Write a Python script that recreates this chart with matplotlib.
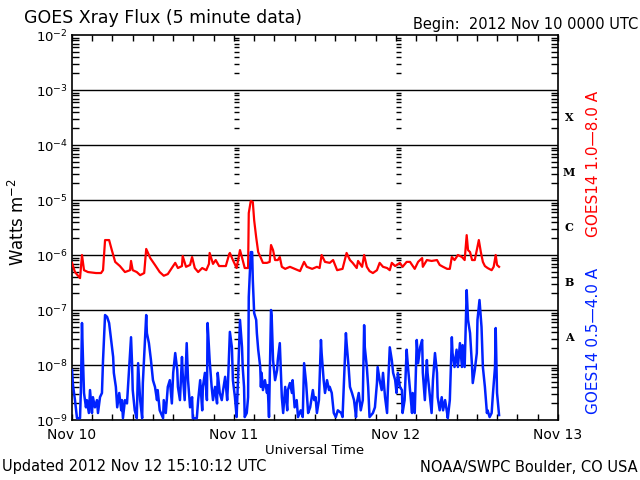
import numpy as np
import matplotlib
matplotlib.use("Agg")
import matplotlib.pyplot as plt
from matplotlib.path import Path
from matplotlib.ticker import FixedLocator, NullFormatter
import matplotlib.transforms as mtransforms

# hours since 2012 Nov 10 00:00 UTC, flux in W m^-2
long_hours = [0, 0.44, 1.19, 1.48, 1.78, 2.37, 3.56, 4.3, 4.6, 4.9, 5.5, 5.9, 6.4, 7.1, 7.85,
              8.6, 8.75, 9.0, 9.6, 10.1, 10.7, 11.0, 11.6, 12.3, 13.0, 13.6, 14.2, 14.8, 15.3,
              15.7, 16.3, 16.4, 16.9, 17.5, 17.8, 18.2, 18.7, 19.3, 19.9, 20.3, 20.4, 20.9,
              21.3, 21.8, 22.2, 22.8, 23.3, 23.4, 23.85, 24.4, 24.9, 25.3, 25.6, 26.1, 26.2,
              26.5, 26.8, 27.0, 27.3, 27.6, 28.0, 28.3, 28.9, 29.3, 29.5, 29.8, 30.1, 30.5,
              30.8, 31.1, 31.6, 32.3, 33.0, 33.8, 34.4, 34.8, 35.6, 36.3, 36.7, 37.0, 37.5,
              38.2, 38.7, 39.3, 40.1, 40.7, 41.2, 41.6, 42.2, 42.4, 43.0, 43.3, 43.7, 44.1,
              44.6, 45.2, 45.6, 46.1, 46.7, 47.1, 47.4, 47.9, 48.6, 49.0, 49.6, 50.1, 50.4,
              50.8, 51.3, 51.9, 52.0, 52.6, 53.3, 54.1, 54.5, 55.0, 55.6, 56.0, 56.3, 56.7,
              57.2, 57.8, 58.2, 58.5, 58.7, 59.0, 59.3, 59.7, 60.0, 60.3, 60.6, 60.9, 61.2,
              61.6, 62.2, 62.5, 62.8, 63.0, 63.3]
long_flux = [7.2e-7, 4.9e-7, 3.8e-7, 1.0e-6, 5.3e-7, 4.9e-7, 4.7e-7, 4.7e-7, 5.3e-7, 1.87e-6,
             1.87e-6, 1.23e-6, 7.5e-7, 6.3e-7, 4.9e-7, 5.3e-7, 7.8e-7, 5.3e-7, 4.9e-7, 4.3e-7,
             4.7e-7, 1.29e-6, 8.8e-7, 6.6e-7, 4.9e-7, 4.2e-7, 4.5e-7, 5.8e-7, 7.2e-7, 5.8e-7,
             6.3e-7, 9.6e-7, 6.1e-7, 6.6e-7, 9.2e-7, 5.8e-7, 4.9e-7, 5.8e-7, 5.3e-7, 6.9e-7,
             1.09e-6, 6.9e-7, 8.1e-7, 6.3e-7, 6.3e-7, 6.3e-7, 1.04e-6, 1.09e-6, 8.1e-7, 5.8e-7,
             1.23e-6, 8.1e-7, 5.8e-7, 5.8e-7, 5.8e-6, 9.6e-6, 9.2e-6, 4.3e-6, 2.1e-6, 1.13e-6,
             8.8e-7, 7.2e-7, 7.2e-7, 7.5e-7, 1.52e-6, 1.23e-6, 8.1e-7, 8.1e-7, 9.2e-7, 6.1e-7,
             5.6e-7, 6.1e-7, 5.6e-7, 5.1e-7, 7.5e-7, 6.1e-7, 5.6e-7, 6.1e-7, 5.8e-7, 1.0e-6,
             7.5e-7, 7.2e-7, 8.1e-7, 5.3e-7, 5.6e-7, 1.09e-6, 8.1e-7, 7.2e-7, 5.8e-7, 7.8e-7,
             6.1e-7, 1.0e-6, 6.1e-7, 5.1e-7, 4.7e-7, 5.3e-7, 7.2e-7, 6.1e-7, 5.8e-7, 5.3e-7,
             7.2e-7, 6.3e-7, 7.2e-7, 6.1e-7, 7.5e-7, 7.5e-7, 6.6e-7, 5.6e-7, 7.5e-7, 8.8e-7,
             6.1e-7, 8.1e-7, 7.8e-7, 8.1e-7, 6.6e-7, 6.1e-7, 5.6e-7, 5.6e-7, 9.2e-7, 8.1e-7,
             1.0e-6, 9.2e-7, 8.1e-7, 2.3e-6, 1.23e-6, 1.13e-6, 8.1e-7, 8.1e-7, 1.23e-6, 1.87e-6,
             1.13e-6, 7.5e-7, 6.3e-7, 5.8e-7, 5.3e-7, 6.1e-7, 1.0e-6, 6.6e-7, 6.1e-7]

short_hours = [0, 0.15, 0.44, 0.74, 1.19, 1.33, 1.48, 1.63, 1.78, 2.07, 2.2, 2.5, 2.67, 2.96,
               3.1, 3.4, 3.7, 3.85, 4.15, 4.44, 4.6, 4.9, 5.2, 5.5, 5.8, 6.1, 6.2, 6.5, 6.7,
               7.0, 7.3, 7.4, 7.55, 7.85, 8.15, 8.3, 8.75, 8.9, 9.0, 9.3, 9.6, 9.8, 10.1, 10.4,
               10.5, 11.0, 11.1, 11.4, 11.7, 12.0, 12.3, 12.6, 12.7, 13.0, 13.5, 13.6, 13.9,
               14.2, 14.5, 14.8, 15.0, 15.3, 15.6, 15.7, 16.0, 16.3, 16.4, 16.7, 17.0, 17.2,
               17.5, 17.8, 17.9, 18.5, 18.7, 19.0, 19.3, 19.4, 19.7, 20.0, 20.1, 20.4, 20.7,
               20.9, 21.2, 21.5, 21.6, 21.9, 22.2, 22.4, 22.7, 23.0, 23.1, 23.4, 23.7, 23.85,
               24.15, 24.4, 24.6, 24.9, 25.2, 25.3, 25.5, 25.6, 25.9, 26.1, 26.2, 26.5, 26.7,
               26.8, 27.0, 27.3, 27.4, 27.6, 27.9, 28.0, 28.1, 28.3, 28.6, 28.9, 29.0, 29.2,
               29.5, 29.6, 29.8, 30.1, 30.4, 30.5, 30.8, 31.1, 31.3, 31.6, 31.9, 32.0, 32.3,
               32.6, 32.7, 33.0, 33.3, 33.5, 33.9, 34.2, 34.4, 34.7, 35.0, 35.3, 35.7, 35.9,
               36.1, 36.3, 36.6, 36.9, 37.0, 37.3, 37.5, 37.8, 38.1, 38.2, 38.5, 38.8, 39.1,
               39.4, 39.9, 40.1, 40.6, 40.7, 41.0, 41.2, 41.5, 41.8, 42.1, 42.2, 42.5, 42.8,
               43.1, 43.3, 43.4, 43.7, 43.9, 44.1, 44.6, 44.9, 45.2, 45.3, 45.6, 45.9, 46.1,
               46.4, 46.7, 46.8, 47.1, 47.4, 47.6, 47.9, 48.1, 48.3, 48.6, 48.9, 49.0, 49.3,
               49.6, 49.8, 50.1, 50.4, 50.5, 50.8, 51.1, 51.3, 51.6, 51.9, 52.0, 52.3, 52.6,
               52.7, 53.0, 53.3, 53.5, 53.8, 54.1, 54.2, 54.5, 54.8, 55.0, 55.3, 55.6, 55.7,
               56.0, 56.3, 56.4, 56.7, 57.0, 57.2, 57.5, 57.8, 57.9, 58.2, 58.5, 58.7, 59.0,
               59.3, 59.4, 59.7, 60.0, 60.1, 60.4, 60.7, 60.9, 61.2, 61.5, 61.6, 61.9, 62.2,
               62.4, 62.7, 62.8, 63.0, 63.3]
short_flux = [8.1e-9, 4.3e-9, 2.3e-9, 1.08e-9, 1.08e-9, 4.0e-9, 5.8e-8, 1.23e-8, 3.1e-9, 1.7e-9,
              2.3e-9, 1.34e-9, 3.5e-9, 1.34e-9, 2.6e-9, 1.7e-9, 2.3e-9, 1.34e-9, 2.6e-9, 3.1e-9,
              1.23e-8, 8.1e-8, 7.5e-8, 5.8e-8, 2.85e-8, 1.4e-8, 7.2e-9, 4.0e-9, 1.7e-9, 3.1e-9,
              1.5e-9, 2.3e-9, 1.08e-9, 2.3e-9, 2.0e-9, 4.0e-9, 3.2e-8, 1.08e-8, 3.5e-9, 1.5e-9,
              1.08e-9, 1.08e-8, 2.3e-9, 1.08e-9, 4.7e-9, 8.1e-8, 3.8e-8, 2.5e-8, 1.23e-8, 5.3e-9,
              4.0e-9, 2.3e-9, 3.5e-9, 1.5e-9, 1.08e-9, 2.3e-9, 1.34e-9, 4.0e-9, 5.3e-9, 2.0e-9,
              7.2e-9, 1.65e-8, 8.1e-9, 4.0e-9, 2.3e-9, 1.4e-8, 7.2e-9, 2.3e-9, 2.5e-8, 5.3e-9,
              1.7e-9, 2.6e-9, 1.08e-9, 1.08e-9, 2.3e-9, 5.3e-9, 1.5e-9, 4.0e-9, 7.2e-9, 2.3e-9,
              5.8e-8, 1.23e-8, 4.0e-9, 2.3e-9, 4.0e-9, 2.0e-9, 7.2e-9, 3.1e-9, 2.3e-9, 3.5e-9,
              6.1e-9, 2.3e-9, 4.0e-9, 4.0e-8, 2.1e-8, 5.3e-9, 2.6e-9, 1.13e-9, 5.3e-9, 6.6e-8,
              2.1e-8, 9.2e-9, 4.0e-9, 1.13e-9, 1.34e-9, 2.6e-9, 1.72e-7, 1.13e-6, 1.13e-6, 3.5e-7,
              8.8e-8, 6.6e-8, 3.8e-8, 1.9e-8, 9.2e-9, 4.0e-9, 7.2e-9, 3.5e-9, 5.3e-9, 3.1e-9,
              4.3e-9, 1.13e-9, 1.0e-7, 7.5e-8, 1.23e-8, 5.3e-9, 8.1e-9, 1.23e-8, 2.5e-8, 2.6e-9,
              1.34e-9, 4.0e-9, 1.5e-9, 3.5e-9, 4.7e-9, 3.1e-9, 5.3e-9, 1.7e-9, 2.3e-9, 1.13e-9,
              1.5e-9, 1.13e-9, 1.08e-8, 4.7e-9, 1.34e-9, 1.7e-9, 3.5e-9, 2.3e-9, 2.6e-9, 1.34e-9,
              2.3e-9, 2.85e-8, 1.65e-8, 5.3e-9, 3.1e-9, 5.3e-9, 3.5e-9, 4.0e-9, 3.1e-9, 1.34e-9,
              1.13e-9, 1.5e-9, 1.34e-9, 1.13e-9, 3.8e-8, 2.5e-8, 9.2e-9, 4.0e-9, 3.1e-9, 2.3e-9,
              1.13e-9, 2.0e-9, 3.1e-9, 1.5e-9, 2.3e-9, 5.3e-8, 2.1e-8, 9.2e-9, 4.0e-9, 1.13e-9,
              1.34e-9, 1.7e-9, 4.7e-9, 9.2e-9, 5.3e-9, 3.5e-9, 7.2e-9, 2.6e-9, 1.34e-9, 3.1e-9,
              2.1e-8, 1.23e-8, 7.2e-9, 5.3e-9, 3.1e-9, 7.2e-9, 4.0e-9, 3.5e-9, 1.34e-9, 2.3e-9,
              1.9e-8, 9.2e-9, 3.5e-9, 1.34e-9, 3.1e-9, 1.34e-9, 2.85e-8, 1.08e-8, 2.1e-8, 2.85e-8,
              7.2e-9, 2.3e-9, 1.23e-8, 7.2e-9, 3.1e-9, 1.34e-9, 5.3e-9, 1.65e-8, 7.2e-9, 2.6e-9,
              1.5e-9, 2.6e-9, 1.5e-9, 2.3e-9, 1.34e-9, 1.08e-9, 2.3e-9, 3.2e-8, 1.65e-8, 9.2e-9,
              1.9e-8, 9.2e-9, 2.5e-8, 9.2e-9, 2.3e-8, 9.2e-9, 2.3e-7, 6.6e-8, 3.8e-8, 9.2e-9,
              4.7e-9, 8.1e-9, 1.65e-8, 6.6e-8, 1.52e-7, 4.9e-8, 9.2e-9, 4.0e-9, 1.34e-9, 1.5e-9,
              1.13e-9, 1.34e-9, 3.1e-9, 9.2e-9, 4.7e-8, 3.1e-9, 1.23e-9]

day_labels = ["Nov 10", "Nov 11", "Nov 12", "Nov 13"]
class_labels = ["X", "M", "C", "B", "A"]
class_centers = [3.16e-4, 3.16e-5, 3.16e-6, 3.16e-7, 3.16e-8]

fig = plt.figure(figsize=(6.4, 4.8), dpi=100)
ax = fig.add_axes([0.1125, 0.125, 0.759, 0.802])

ax.plot(long_hours, long_flux, color="#ff0000", lw=1.6, zorder=3)
ax.plot(short_hours, short_flux, color="#0022ff", lw=1.8, zorder=3)

ax.set_yscale("log")
ax.set_ylim(1e-9, 1e-2)
ax.set_xlim(0, 72)

# decade grid lines
for k in range(-8, -2):
    ax.axhline(10.0 ** k, color="black", lw=1.0, zorder=2)

# minor log ticks repeated at day boundaries
tick_path = Path([(0, 0), (1, 0)])
minor_vals = [m * 10.0 ** k for k in range(-9, -2) for m in range(2, 10)]
for d in [24, 48]:
    ax.plot([d] * len(minor_vals), minor_vals, ls="none", marker=tick_path,
            markersize=7, color="black", mew=1.0, zorder=2)

ax.set_xticks([0, 24, 48, 72])
ax.set_xticklabels(day_labels)
ax.xaxis.set_minor_locator(FixedLocator(np.arange(0, 73, 3)))
ax.tick_params(axis="x", which="both", direction="in", top=True, bottom=True,
               length=4, width=1, labelsize=10, pad=6)
ax.set_yticks([10.0 ** k for k in range(-9, -1)])
ax.set_yticklabels(["10$^{%d}$" % k for k in range(-9, -1)])
ax.yaxis.set_minor_formatter(NullFormatter())
ax.tick_params(axis="y", which="both", direction="in", left=True, right=True,
               labelsize=9.5, pad=3)
ax.tick_params(axis="y", which="major", length=0)
ax.tick_params(axis="y", which="minor", length=5, width=1)
for lab in ax.get_yticklabels():
    lab.set_verticalalignment("center_baseline")

for s in ax.spines.values():
    s.set_linewidth(1.2)

trans = mtransforms.blended_transform_factory(ax.transAxes, ax.transData)
for lab, yv in zip(class_labels, class_centers):
    ax.text(1.023, yv, lab, transform=trans, family="DejaVu Serif", fontweight="bold",
            fontsize=8, ha="center", va="center")

fig.text(18 / 640, 1 - 222 / 480, "Watts m$^{-2}$", fontsize=12, rotation=90,
         ha="center", va="center")
fig.text(315 / 640, 1 - 450 / 480, "Universal Time", fontsize=9.5,
         ha="center", va="center")
fig.text(24 / 640, 1 - 18 / 480, "GOES Xray Flux (5 minute data)", fontsize=12.5,
         ha="left", va="center")
fig.text(638 / 640, 1 - 24 / 480, "Begin:  2012 Nov 10 0000 UTC", fontsize=10.5,
         ha="right", va="center")
fig.text(2 / 640, 1 - 467 / 480, "Updated 2012 Nov 12 15:10:12 UTC", fontsize=10.5,
         ha="left", va="center")
fig.text(638 / 640, 1 - 467 / 480, "NOAA/SWPC Boulder, CO USA", fontsize=10.5,
         ha="right", va="center")
fig.text(593 / 640, 1 - 164 / 480, "GOES14 1.0\u20148.0 A", color="#ff0000",
         fontsize=11, rotation=90, ha="center", va="center")
fig.text(593 / 640, 1 - 341 / 480, "GOES14 0.5\u20144.0 A", color="#0022ff",
         fontsize=11, rotation=90, ha="center", va="center")

fig.savefig("out.png", dpi=100)
